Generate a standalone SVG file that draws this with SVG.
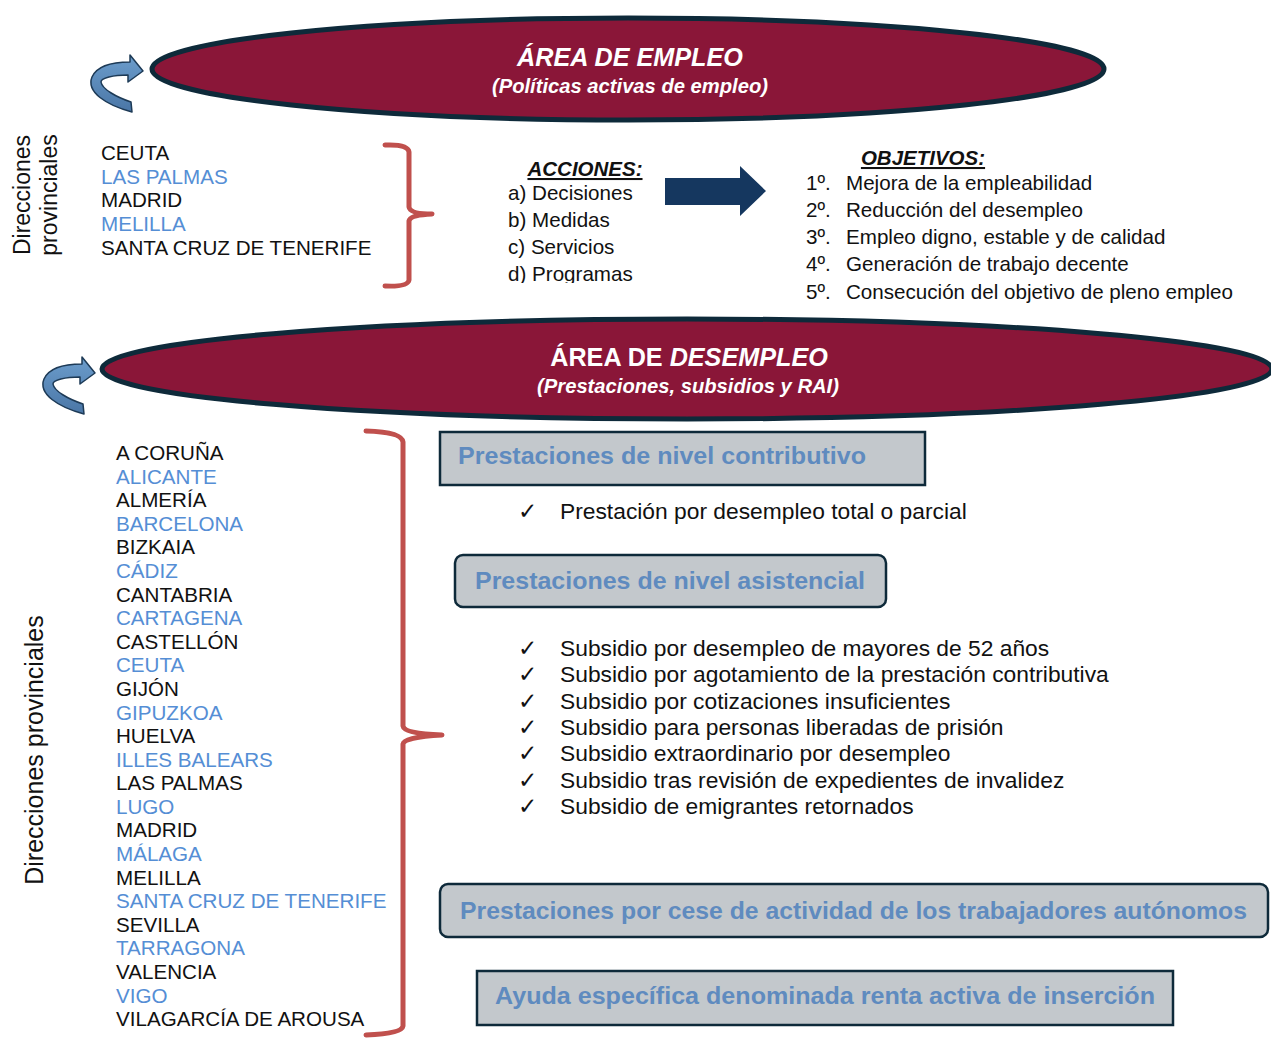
<svg xmlns="http://www.w3.org/2000/svg" width="1271" height="1038" viewBox="0 0 1271 1038">
<style>
text{font-family:"Liberation Sans",Arial,sans-serif}
.ell{fill:#8a1638;stroke:#0e2a3a;stroke-width:5}
.t1{fill:#fff;font-weight:bold;font-style:italic;font-size:25.2px}
.t2{fill:#fff;font-weight:bold;font-style:italic;font-size:20.2px}
.city{font-size:20.6px;fill:#111}
.blue{fill:#558ed5}
.side{font-size:23px;fill:#111}
.brace{fill:none;stroke:#c0504d;stroke-width:5;stroke-linejoin:round;stroke-linecap:round}
.head{font-size:20.5px;font-weight:bold;font-style:italic;text-decoration:underline;fill:#111}
.item{font-size:20.6px;fill:#111}
.box{fill:#c3c8cc;stroke:#0e2a3a;stroke-width:2.5}
.bt{font-size:24px;font-weight:bold;fill:#5f8bbf}
.chk{font-family:"DejaVu Sans",sans-serif;font-size:23px;fill:#111}
.li{font-size:22.8px;fill:#111}
.curl{fill:url(#cg);stroke:#1d3a56;stroke-width:1.5;stroke-linejoin:round}
</style>
<defs>
<linearGradient id="cg" x1="0" y1="0" x2="0" y2="1">
<stop offset="0" stop-color="#6c9dcc"/>
<stop offset="1" stop-color="#4a76a6"/>
</linearGradient>
<path id="curlpath" d="M132 112 C106 105 86 92 92 77 C97 66 112 62 130 62 L130 55 L143 71 L128 82 L128 75 C113 75 101 78 101 82 C102 89 116 97 131 102 Z"/>
<clipPath id="accclip"><rect x="480" y="140" width="200" height="143"/></clipPath>
</defs>

<g id="area-empleo">
<ellipse class="ell" cx="628" cy="69" rx="476" ry="51"/>
<text class="t1" x="630" y="66" text-anchor="middle">ÁREA DE EMPLEO</text>
<text class="t2" x="630" y="93" text-anchor="middle">(Políticas activas de empleo)</text>
</g>
<g id="curl-empleo">
<use href="#curlpath" class="curl"/>
</g>

<g id="dir-prov-empleo">
<text class="side" transform="translate(30,195) rotate(-90)" text-anchor="middle">Direcciones</text>
<text class="side" transform="translate(57,195) rotate(-90)" text-anchor="middle">provinciales</text>
</g>
<g id="cities-empleo">
<text class="city" x="101" y="160">CEUTA</text>
<text class="city blue" x="101" y="184">LAS PALMAS</text>
<text class="city" x="101" y="207">MADRID</text>
<text class="city blue" x="101" y="231">MELILLA</text>
<text class="city" x="101" y="255">SANTA CRUZ DE TENERIFE</text>
</g>

<g id="acciones" clip-path="url(#accclip)">
<text class="head" x="585" y="176" text-anchor="middle">ACCIONES:</text>
<text class="item" x="508" y="200">a) Decisiones</text>
<text class="item" x="508" y="227">b) Medidas</text>
<text class="item" x="508" y="254">c) Servicios</text>
<text class="item" x="508" y="281">d) Programas</text>
</g>

<g id="objetivos">
<text class="head" x="923" y="165" text-anchor="middle">OBJETIVOS:</text>
<text class="item" x="806" y="190">1º.</text><text class="item" x="846" y="190">Mejora de la empleabilidad</text>
<text class="item" x="806" y="217">2º.</text><text class="item" x="846" y="217">Reducción del desempleo</text>
<text class="item" x="806" y="244">3º.</text><text class="item" x="846" y="244">Empleo digno, estable y de calidad</text>
<text class="item" x="806" y="271">4º.</text><text class="item" x="846" y="271">Generación de trabajo decente</text>
<text class="item" x="806" y="299">5º.</text><text class="item" x="846" y="299">Consecución del objetivo de pleno empleo</text>
</g>

<g id="area-desempleo">
<ellipse class="ell" cx="687" cy="369" rx="585" ry="50"/>
<text class="t1" x="689" y="366" text-anchor="middle" font-style="normal" style="font-style:normal">ÁREA DE <tspan style="font-style:italic">DESEMPLEO</tspan></text>
<text class="t2" x="688" y="393" text-anchor="middle">(Prestaciones, subsidios y RAI)</text>
</g>
<g id="curl-desempleo">
<use href="#curlpath" class="curl" transform="translate(-48,302)"/>
</g>

<g id="dir-prov-desempleo">
<text class="side" style="font-size:25px" transform="translate(43,750) rotate(-90)" text-anchor="middle">Direcciones provinciales</text>
</g>
<g id="cities-desempleo">
<text class="city" x="116" y="460">A CORUÑA</text>
<text class="city blue" x="116" y="483.6">ALICANTE</text>
<text class="city" x="116" y="507.2">ALMERÍA</text>
<text class="city blue" x="116" y="530.8">BARCELONA</text>
<text class="city" x="116" y="554.3">BIZKAIA</text>
<text class="city blue" x="116" y="577.9">CÁDIZ</text>
<text class="city" x="116" y="601.5">CANTABRIA</text>
<text class="city blue" x="116" y="625.1">CARTAGENA</text>
<text class="city" x="116" y="648.7">CASTELLÓN</text>
<text class="city blue" x="116" y="672.3">CEUTA</text>
<text class="city" x="116" y="695.9">GIJÓN</text>
<text class="city blue" x="116" y="719.5">GIPUZKOA</text>
<text class="city" x="116" y="743">HUELVA</text>
<text class="city blue" x="116" y="766.6">ILLES BALEARS</text>
<text class="city" x="116" y="790.2">LAS PALMAS</text>
<text class="city blue" x="116" y="813.8">LUGO</text>
<text class="city" x="116" y="837.4">MADRID</text>
<text class="city blue" x="116" y="861">MÁLAGA</text>
<text class="city" x="116" y="884.6">MELILLA</text>
<text class="city blue" x="116" y="908.2">SANTA CRUZ DE TENERIFE</text>
<text class="city" x="116" y="931.7">SEVILLA</text>
<text class="city blue" x="116" y="955.3">TARRAGONA</text>
<text class="city" x="116" y="978.9">VALENCIA</text>
<text class="city blue" x="116" y="1002.5">VIGO</text>
<text class="city" x="116" y="1026">VILAGARCÍA DE AROUSA</text>
</g>

<g id="box-contributivo">
<rect class="box" x="440" y="432" width="485" height="53"/>
<text class="bt" x="458" y="464" textLength="408" lengthAdjust="spacingAndGlyphs">Prestaciones de nivel contributivo</text>
</g>
<g id="list-contributivo">
<text class="chk" x="518" y="519">✓</text>
<text class="li" x="560" y="519">Prestación por desempleo total o parcial</text>
</g>

<g id="box-asistencial">
<rect class="box" x="455" y="555" width="431" height="52" rx="8"/>
<text class="bt" x="475" y="589" textLength="390" lengthAdjust="spacingAndGlyphs">Prestaciones de nivel asistencial</text>
</g>
<g id="list-asistencial">
<text class="chk" x="518" y="656">✓</text><text class="li" x="560" y="656">Subsidio por desempleo de mayores de 52 años</text>
<text class="chk" x="518" y="682.3">✓</text><text class="li" x="560" y="682.3">Subsidio por agotamiento de la prestación contributiva</text>
<text class="chk" x="518" y="708.6">✓</text><text class="li" x="560" y="708.6">Subsidio por cotizaciones insuficientes</text>
<text class="chk" x="518" y="735">✓</text><text class="li" x="560" y="735">Subsidio para personas liberadas de prisión</text>
<text class="chk" x="518" y="761.3">✓</text><text class="li" x="560" y="761.3">Subsidio extraordinario por desempleo</text>
<text class="chk" x="518" y="787.6">✓</text><text class="li" x="560" y="787.6">Subsidio tras revisión de expedientes de invalidez</text>
<text class="chk" x="518" y="814">✓</text><text class="li" x="560" y="814">Subsidio de emigrantes retornados</text>
</g>

<g id="box-autonomos">
<rect class="box" x="440" y="884" width="828" height="53" rx="8"/>
<text class="bt" x="460" y="919" textLength="787" lengthAdjust="spacingAndGlyphs">Prestaciones por cese de actividad de los trabajadores autónomos</text>
</g>

<g id="box-rai">
<rect class="box" x="477" y="971" width="696" height="54"/>
<text class="bt" x="495" y="1004" textLength="660" lengthAdjust="spacingAndGlyphs">Ayuda específica denominada renta activa de inserción</text>
</g>

<g id="connectors">
<path class="brace" d="M385 145 Q408 144 409 152 L409 207 Q410 214 432 214 Q410 215 409 221 L409 280 Q408 287 385 286"/>
<path class="brace" d="M366 431 Q402 432 403 442 L403 726 Q404 734 442 735 Q404 737 403 744 L403 1026 Q402 1034 366 1035"/>
<path id="big-arrow" d="M665 178 L740 178 L740 166 L766 191 L740 216 L740 205 L665 205 Z" fill="#15375f"/>
</g>
</svg>
